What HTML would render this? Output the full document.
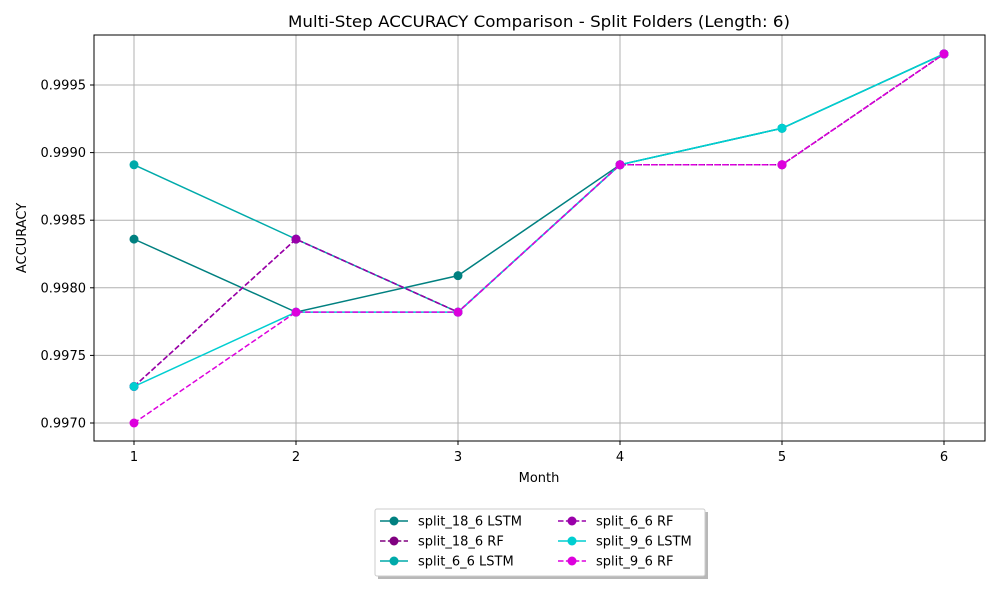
<!DOCTYPE html>
<html><head><meta charset="utf-8"><style>
body{margin:0;background:#fff;font-family:"DejaVu Sans","Liberation Sans",sans-serif;}
svg text{font-family:"DejaVu Sans","Liberation Sans",sans-serif;}
</style></head><body>
<svg id="chart" width="1000" height="600" xmlns="http://www.w3.org/2000/svg">
<rect width="1000" height="600" fill="#fff"/>
<text x="539" y="27" font-size="16" text-anchor="middle" textLength="502" lengthAdjust="spacingAndGlyphs">Multi-Step ACCURACY Comparison - Split Folders (Length: 6)</text>
<g id="grid"></g>
<g id="series"></g>
<rect x="94" y="35" width="891" height="406" fill="none" stroke="#000" stroke-width="1"/>
<g id="axes"></g>
<text x="539" y="482" font-size="13" text-anchor="middle">Month</text>
<text x="26" y="238" font-size="13" text-anchor="middle" transform="rotate(-90 26 238)">ACCURACY</text>
<g id="legend"></g>
</svg>
<script>
const months=[1,2,3,4,5,6];
const yTicks=[0.9970,0.9975,0.9980,0.9985,0.9990,0.9995];
const seriesNames=["split_18_6 LSTM","split_18_6 RF","split_6_6 LSTM","split_6_6 RF","split_9_6 LSTM","split_9_6 RF"];
const seriesColors=["#008080","#800080","#00AAAA","#9A00AA","#00CED1","#DD00DD"];
const seriesDashed=[false,true,false,true,false,true];
const s18LSTM=[0.99836,0.99782,0.99809,0.99891,0.99918,0.99973];
const s18RF=[0.99727,0.99836,0.99782,0.99891,0.99891,0.99973];
const s6LSTM=[0.99891,0.99836,0.99782,0.99891,0.99918,0.99973];
const s6RF=[0.99727,0.99836,0.99782,0.99891,0.99891,0.99973];
const s9LSTM=[0.99727,0.99782,0.99782,0.99891,0.99918,0.99973];
const s9RF=[0.99700,0.99782,0.99782,0.99891,0.99891,0.99973];
const allSeries=[s18LSTM,s18RF,s6LSTM,s6RF,s9LSTM,s9RF];
const NS="http://www.w3.org/2000/svg";
function X(m){return 134+(m-1)*162;}
function Y(v){return 423-(v-0.9970)/0.0005*67.6;}
function mk(tag,attrs,parent){const e=document.createElementNS(NS,tag);for(const k in attrs)e.setAttribute(k,attrs[k]);parent.appendChild(e);return e;}
const grid=document.getElementById('grid'),axes=document.getElementById('axes'),ser=document.getElementById('series'),leg=document.getElementById('legend');
months.forEach(m=>{
 const l=mk('line',{x1:X(m),x2:X(m),y1:35,y2:441,stroke:'#b0b0b0','stroke-width':1},grid);
 
 
 mk('line',{x1:X(m),x2:X(m),y1:441,y2:445,stroke:'#000'},axes);
 const t=mk('text',{x:X(m),y:461,'font-size':13,'text-anchor':'middle'},axes);t.textContent=m;
 
 
});
yTicks.forEach(v=>{
 const l=mk('line',{x1:94,x2:985,y1:Y(v),y2:Y(v),stroke:'#b0b0b0','stroke-width':1},grid);
 
 
 mk('line',{x1:90,x2:94,y1:Y(v),y2:Y(v),stroke:'#000'},axes);
 const t=mk('text',{x:86,y:Y(v)+4.5,'font-size':13,'text-anchor':'end'},axes);t.textContent=v.toFixed(4);
 
 
});
allSeries.forEach((d,i)=>{
 const g=mk('g',{},ser);
 
 
 const p=mk('polyline',{points:d.map((v,j)=>X(months[j])+','+Y(v)).join(' '),fill:'none',stroke:seriesColors[i],'stroke-width':1.5},g);
 if(seriesDashed[i])p.setAttribute('stroke-dasharray','5.5,2.4');
 d.forEach((v,j)=>{const c=mk('circle',{cx:X(months[j]),cy:Y(v),r:4.5,fill:seriesColors[i]},g);
  
  });
});
mk('rect',{x:378,y:512,width:330,height:67,fill:'#888',opacity:0.6},leg);
mk('rect',{x:375,y:509,width:330,height:67,fill:'#fff',stroke:'#ccc',rx:2},leg);
seriesNames.forEach((n,i)=>{
 const c=Math.floor(i/3),r=i%3;
 const x=c===0?380:558,y=521+r*20;
 const e=mk('g',{},leg);
 
 
 const l=mk('line',{x1:x,x2:x+28,y1:y,y2:y,stroke:seriesColors[i],'stroke-width':1.5},e);
 if(seriesDashed[i])l.setAttribute('stroke-dasharray','5.5,2.4');
 mk('circle',{cx:x+14,cy:y,r:4.5,fill:seriesColors[i]},e);
 const t=mk('text',{x:x+38,y:y+4.5,'font-size':13},e);t.textContent=n;
});
</script>
</body></html>
